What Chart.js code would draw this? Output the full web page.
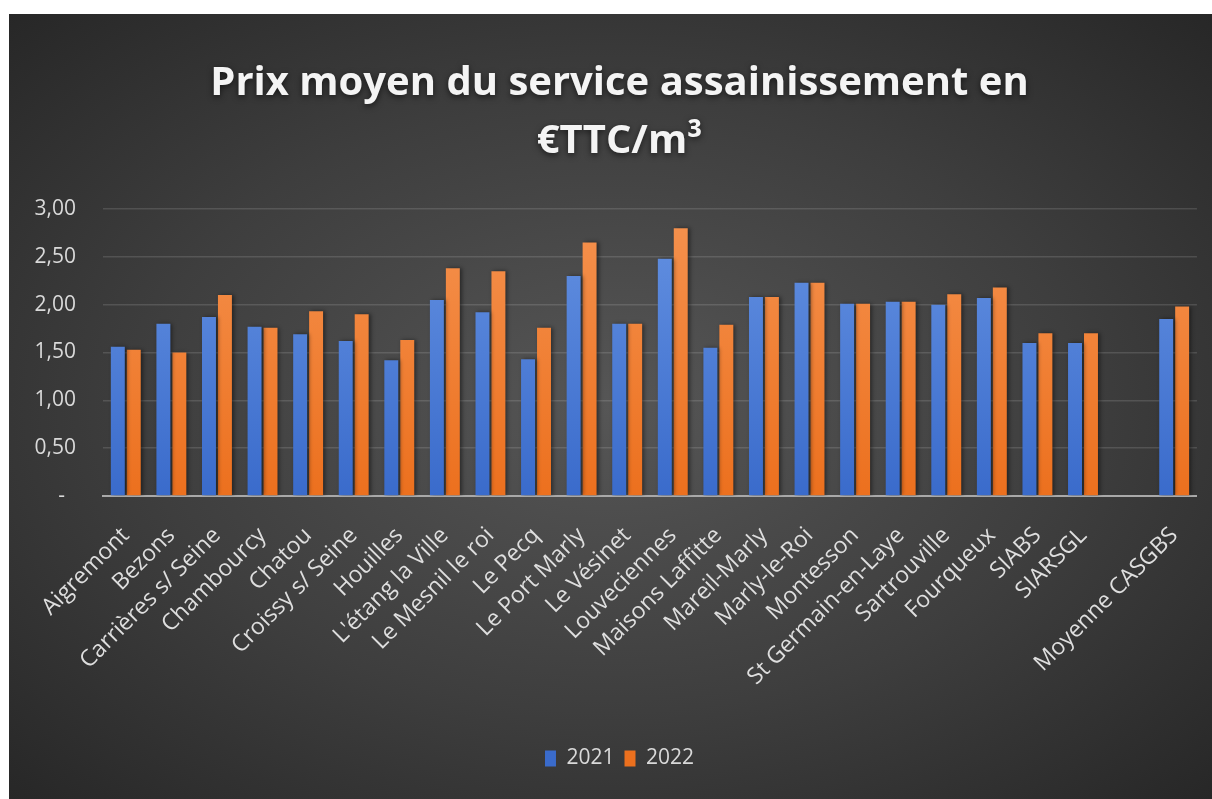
<!DOCTYPE html>
<html>
<head>
<meta charset="utf-8">
<script src="https://cdn.jsdelivr.net/npm/chart.js@4"></script>
<style>
  html, body { margin: 0; padding: 0; background: #ffffff; }
  #wrap {
    position: absolute; left: 9px; top: 14px;
    width: 1203px; height: 785px;
    background: radial-gradient(ellipse farthest-corner at 50% 50%, #565656 0%, #3e3e3e 55%, #272727 100%);
  }
</style>
</head>
<body>
<div id="wrap"><canvas id="chart" width="1203" height="785"></canvas></div>
<script>
// data
const categories = ['Aigremont', 'Bezons', 'Carrières s/ Seine', 'Chambourcy', 'Chatou',
  'Croissy s/ Seine', 'Houilles', "L'étang la Ville", 'Le Mesnil le roi', 'Le Pecq',
  'Le Port Marly', 'Le Vésinet', 'Louveciennes', 'Maisons Laffitte', 'Mareil-Marly',
  'Marly-le-Roi', 'Montesson', 'St Germain-en-Laye', 'Sartrouville', 'Fourqueux',
  'SIABS', 'SIARSGL', '', 'Moyenne CASGBS'];
const prix2021 = [1.56, 1.80, 1.87, 1.77, 1.69, 1.62, 1.42, 2.05, 1.92, 1.43, 2.30, 1.80,
  2.48, 1.55, 2.08, 2.23, 2.01, 2.03, 2.00, 2.07, 1.60, 1.60, null, 1.85];
const prix2022 = [1.53, 1.50, 2.10, 1.76, 1.93, 1.90, 1.63, 2.38, 2.35, 1.76, 2.65, 1.80,
  2.80, 1.79, 2.08, 2.23, 2.01, 2.03, 2.11, 2.18, 1.70, 1.70, null, 1.98];
const yTickLabels = ['-  ', '0,50', '1,00', '1,50', '2,00', '2,50', '3,00'];
const titleLines = ['Prix moyen du service assainissement en', '€TTC/m³'];

const FONT = "'Open Sans', 'DejaVu Sans', sans-serif";

function barGradient(top, bottom) {
  return function(context) {
    const area = context.chart.chartArea;
    if (!area) return bottom;
    const g = context.chart.ctx.createLinearGradient(0, area.top, 0, area.bottom);
    g.addColorStop(0, top);
    g.addColorStop(1, bottom);
    return g;
  };
}

// soft drop shadow on the bars only
const barShadow = {
  id: 'barShadow',
  beforeDatasetsDraw(chart) {
    const ctx = chart.ctx;
    ctx.save();
    ctx.shadowColor = 'rgba(0,0,0,0.45)';
    ctx.shadowBlur = 4;
    ctx.shadowOffsetX = 2;
    ctx.shadowOffsetY = 0;
  },
  afterDatasetsDraw(chart) {
    chart.ctx.restore();
  }
};

const chart = new Chart(document.getElementById('chart'), {
  type: 'bar',
  data: {
    labels: categories,
    datasets: [
      {
        label: '2021',
        data: prix2021,
        backgroundColor: barGradient('#6592e2', '#3a6bcb'),
        categoryPercentage: 0.70,
        barPercentage: 0.875
      },
      {
        label: '2022',
        data: prix2022,
        backgroundColor: barGradient('#f5924f', '#ec701e'),
        categoryPercentage: 0.70,
        barPercentage: 0.875
      }
    ]
  },
  options: {
    responsive: false,
    animation: false,
    layout: { padding: { left: 33, right: 15, bottom: 20, top: 0 } },
    scales: {
      x: {
        grid: { display: false },
        border: { color: '#a9a9a9', width: 2 },
        ticks: {
          color: '#dedede',
          font: { family: FONT, size: 23 },
          minRotation: 45,
          maxRotation: 45,
          autoSkip: false,
          padding: 18
        },
        afterFit(scale) { scale.height = 242; }
      },
      y: {
        min: 0,
        max: 3,
        grid: { color: 'rgba(255,255,255,0.13)', lineWidth: 1.5, drawTicks: false },
        border: { display: false },
        ticks: {
          stepSize: 0.5,
          color: '#d9d9d9',
          font: { family: FONT, size: 21 },
          padding: 27,
          callback: (v, i) => yTickLabels[i]
        },
        afterFit(scale) { scale.width = 61; }
      }
    },
    plugins: {
      title: {
        display: true,
        text: titleLines,
        color: '#f4f4f4',
        font: { family: FONT, size: 40, weight: 'bold', lineHeight: 1.45 },
        padding: { top: 41, bottom: 38 }
      },
      legend: {
        position: 'bottom',
        labels: {
          color: '#d9d9d9',
          font: { family: FONT, size: 21 },
          boxWidth: 11,
          boxHeight: 16,
          padding: 10
        }
      },
      tooltip: { enabled: false }
    }
  },
  plugins: [barShadow]
});

// y labels reach left of the narrow axis box: do not clip them
chart.scales.y._computeLabelArea = () => undefined;

// glow behind the title text, as in the original
const drawTitle = chart.titleBlock.draw.bind(chart.titleBlock);
chart.titleBlock.draw = function() {
  const ctx = chart.ctx;
  ctx.save();
  ctx.shadowColor = 'rgba(0,0,0,0.6)';
  ctx.shadowBlur = 6;
  ctx.shadowOffsetY = 2;
  drawTitle();
  ctx.restore();
};
chart.draw();
</script>
</body>
</html>
